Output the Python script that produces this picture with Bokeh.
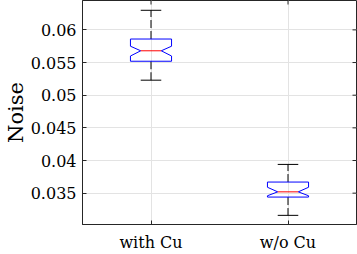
import math
from bokeh.plotting import figure
from bokeh.models import FixedTicker, CustomJSTickFormatter, Range1d
from bokeh.embed import file_html
from bokeh.resources import INLINE

# ---- data ----
groups = ["with Cu", "w/o Cu"]
upper_whisker = [0.0630, 0.0394]
q3 = [0.0586, 0.0367]
notch_hi = [0.0575, 0.0359]
median = [0.0568, 0.0352]
notch_lo = [0.0560, 0.0346]
q1 = [0.0552, 0.0344]
lower_whisker = [0.0523, 0.0316]
y_ticks = [0.035, 0.04, 0.045, 0.05, 0.055, 0.06]

FONT = "DejaVu Serif"
AX = "#262626"
BOX_W = 0.30
CAP_W = 0.15
positions = [i + 1 for i in range(len(groups))]
X0, X1 = 0.5, 2.5
Y0, Y1 = 0.0302, 0.0645

p = figure(width=357, height=254, output_backend="svg", toolbar_location=None,
           x_range=Range1d(X0, X1), y_range=Range1d(Y0, Y1),
           min_border_left=78, min_border_right=1, min_border_top=0, min_border_bottom=0)
p.background_fill_color = "white"
p.border_fill_color = "white"
p.outline_line_color = AX
p.outline_line_width = 1

# grid
p.xgrid.ticker = FixedTicker(ticks=positions)
p.ygrid.ticker = FixedTicker(ticks=y_ticks)
p.xgrid.grid_line_color = "#e3e3e3"
p.ygrid.grid_line_color = "#e3e3e3"

# axes
fmt = CustomJSTickFormatter(code="return tick.toFixed(3).replace(/0+$/, '');")
for ax in p.yaxis:
    ax.ticker = FixedTicker(ticks=y_ticks)
    ax.formatter = fmt
    ax.axis_label = "Noise"
    ax.axis_label_text_font = FONT
    ax.axis_label_text_font_style = "normal"
    ax.axis_label_text_font_size = "21px"
    ax.axis_label_text_color = "black"
    ax.axis_label_standoff = 0
    ax.major_label_standoff = 6
for ax in p.xaxis:
    ax.ticker = FixedTicker(ticks=positions)
    ax.major_label_overrides = {pos: g for pos, g in zip(positions, groups)}
    ax.axis_label = None
    ax.major_label_standoff = 8
for ax in list(p.xaxis) + list(p.yaxis):
    ax.major_label_text_font = FONT
    ax.major_label_text_font_size = "16px"
    ax.major_label_text_color = "black"
    ax.axis_line_color = AX
    ax.major_tick_line_color = AX
    ax.major_tick_in = 4
    ax.major_tick_out = 0
    ax.minor_tick_line_color = None

# inward ticks on the right and top edges (half of each dash is clipped by the frame)
p.scatter(x=[X1] * len(y_ticks), y=y_ticks, marker="dash", size=8,
          line_color=AX, line_width=1)
p.scatter(x=positions, y=[Y1] * len(positions), marker="dash", size=8, angle=math.pi / 2,
          line_color=AX, line_width=1)

# whiskers
for x, lw, a, b, uw in zip(positions, lower_whisker, q1, q3, upper_whisker):
    p.segment(x0=[x, x], y0=[b, a], x1=[x, x], y1=[uw, lw],
              line_color="black", line_width=1, line_dash="8 3")
    p.segment(x0=[x - CAP_W / 2] * 2, y0=[uw, lw], x1=[x + CAP_W / 2] * 2, y1=[uw, lw],
              line_color="black", line_width=1)

# notched boxes
xs, ys = [], []
for x, a, nl, m, nh, b in zip(positions, q1, notch_lo, median, notch_hi, q3):
    h = BOX_W / 2
    n = BOX_W / 4
    xs.append([x - h, x + h, x + h, x + n, x + h, x + h, x - h, x - h, x - n, x - h])
    ys.append([b, b, nh, m, nl, a, a, nl, m, nh])
p.patches(xs, ys, fill_color=None, line_color="#0000ff", line_width=1)

# medians
p.segment(x0=[x - BOX_W / 4 for x in positions], y0=median,
          x1=[x + BOX_W / 4 for x in positions], y1=median,
          line_color="#ff0000", line_width=1)

open("out.html", "w").write(file_html(p, INLINE))
